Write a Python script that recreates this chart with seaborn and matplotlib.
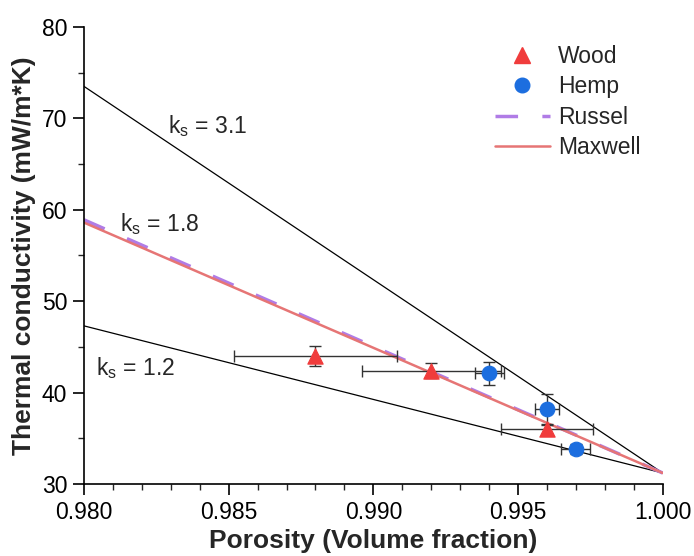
import numpy as np
import pandas as pd
import matplotlib
matplotlib.use("Agg")
import matplotlib.pyplot as plt
import seaborn as sns
from matplotlib.ticker import MultipleLocator, FormatStrFormatter
from matplotlib.lines import Line2D

# Measured samples
wood_porosity = [0.988, 0.992, 0.996]
wood_k = [44.0, 42.4, 36.0]
wood_xerr = [0.0028, 0.0024, 0.0016]
wood_yerr = [1.1, 0.85, 0.5]

hemp_porosity = [0.994, 0.996, 0.997]
hemp_k = [42.1, 38.2, 33.8]
hemp_xerr = [0.0005, 0.0004, 0.0005]
hemp_yerr = [1.3, 1.6, 0.55]

# Model lines (endpoints at porosity 0.98 and 1.0)
line_porosity = [0.980, 1.000]
ks31_k = [73.5, 31.2]
ks12_k = [47.3, 31.2]
russel_k = [58.9, 31.2]
maxwell_k = [58.6, 31.2]

sns.set_theme(style="ticks")
plt.rcParams["font.family"] = ["Liberation Sans", "DejaVu Sans"]
plt.rcParams["mathtext.fontset"] = "custom"
plt.rcParams["mathtext.rm"] = "Liberation Sans"

fig = plt.figure(figsize=(6.94, 5.56), dpi=100)
ax = fig.add_axes([0.121, 0.1295, 0.834, 0.822])

c_wood = "#F03C3C"
c_hemp = "#1C6EDF"
c_russel = "#B07CE6"
c_maxwell = "#E67575"
russel_dash = (0, (6.5, 7))

sns.lineplot(x=line_porosity, y=ks31_k, ax=ax, color="black", lw=0.9)
sns.lineplot(x=line_porosity, y=ks12_k, ax=ax, color="black", lw=0.9)
sns.lineplot(x=line_porosity, y=russel_k, ax=ax, color=c_russel, lw=2.5,
             linestyle=russel_dash)
sns.lineplot(x=line_porosity, y=maxwell_k, ax=ax, color=c_maxwell, lw=1.8)

ax.errorbar(wood_porosity, wood_k, xerr=wood_xerr, yerr=wood_yerr, fmt="none",
            ecolor="#333333", elinewidth=1.0, capsize=4, capthick=1.0, zorder=3)
ax.errorbar(hemp_porosity, hemp_k, xerr=hemp_xerr, yerr=hemp_yerr, fmt="none",
            ecolor="#333333", elinewidth=1.0, capsize=4, capthick=1.0, zorder=3)

sns.scatterplot(x=wood_porosity, y=wood_k, ax=ax, marker="^", s=120,
                color=c_wood, edgecolor=c_wood, zorder=4)
sns.scatterplot(x=hemp_porosity, y=hemp_k, ax=ax, marker="o", s=110,
                color=c_hemp, edgecolor=c_hemp, zorder=4)

ax.text(0.98290, 68.4, r"k$_{\rm s}$ = 3.1", fontsize=16.5, va="baseline")
ax.text(0.98124, 57.7, r"k$_{\rm s}$ = 1.8", fontsize=16.5, va="baseline")
ax.text(0.98041, 41.9, r"k$_{\rm s}$ = 1.2", fontsize=16.5, va="baseline")

ax.set_xlim(0.980, 1.000)
ax.set_ylim(30, 80)
ax.xaxis.set_major_locator(MultipleLocator(0.005))
ax.xaxis.set_minor_locator(MultipleLocator(0.001))
ax.xaxis.set_major_formatter(FormatStrFormatter("%.3f"))
ax.yaxis.set_major_locator(MultipleLocator(10))
ax.yaxis.set_minor_locator(MultipleLocator(5))
ax.tick_params(which="major", direction="out", length=8, width=1.2,
               labelsize=16.5, colors="black", pad=4)
ax.tick_params(which="minor", direction="out", length=4.5, width=1.0)
for s in ["left", "bottom"]:
    ax.spines[s].set_linewidth(1.2)
    ax.spines[s].set_color("black")
sns.despine(ax=ax)

ax.set_xlabel("Porosity (Volume fraction)", fontsize=19, fontweight="bold", labelpad=4)
ax.set_ylabel("Thermal conductivity (mW/m*K)", fontsize=19, fontweight="bold", labelpad=4)

handles = [
    Line2D([], [], marker="^", color=c_wood, linestyle="none", markersize=11),
    Line2D([], [], marker="o", color=c_hemp, linestyle="none", markersize=10.5),
    Line2D([], [], color=c_russel, lw=2.5, linestyle=russel_dash),
    Line2D([], [], color=c_maxwell, lw=1.8),
]
ax.legend(handles, ["Wood", "Hemp", "Russel", "Maxwell"], loc="upper left",
          bbox_to_anchor=(0.713, 0.919), bbox_transform=fig.transFigure,
          frameon=False, fontsize=16.5, handlelength=2.4, handletextpad=0.35,
          labelspacing=0.32, borderpad=0, borderaxespad=0)

fig.savefig("out.png", dpi=100)
